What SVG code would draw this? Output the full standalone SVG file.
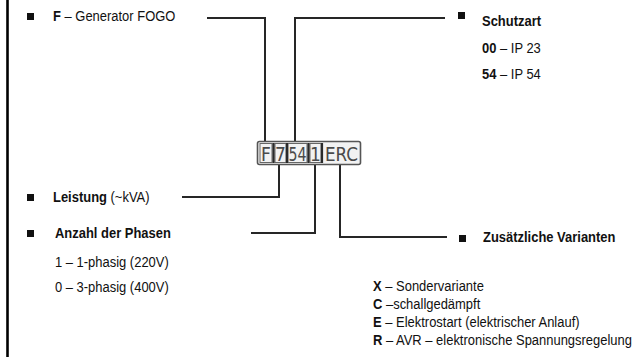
<svg xmlns="http://www.w3.org/2000/svg" width="637" height="358" viewBox="0 0 637 358">
<style>
  text { font-family: "Liberation Sans", Arial, sans-serif; font-size: 14.4px; fill: #111; }
  .b { font-weight: bold; }
  .bul { fill: #111; }
  .conn { fill: none; stroke: #262626; stroke-width: 2; }
  .code { font-family: "DejaVu Sans Condensed", "DejaVu Sans", sans-serif; font-size: 19px; fill: #4a4a4a; }
  .div { stroke: #2a2a2a; stroke-width: 2.2; }
</style>
<line x1="7.5" y1="0" x2="7.5" y2="357" stroke="#000" stroke-width="2.6"/>
<g id="connectors">
  <polyline class="conn" points="207,18 265,18 265,141"/>
  <polyline class="conn" points="445,18 295,18 295,141"/>
  <polyline class="conn" points="182,197 279,197 279,165"/>
  <polyline class="conn" points="251,233 315,233 315,165"/>
  <polyline class="conn" points="447,237 340,237 340,165"/>
</g>
<g id="code">
  <rect x="257.5" y="141.5" width="103" height="23" rx="2" fill="#f2f2f2" stroke="#555" stroke-width="1.6"/>
  <rect x="260" y="143.5" width="12" height="19" fill="none" stroke="#666" stroke-width="1"/>
  <rect x="275" y="143.5" width="11" height="19" fill="none" stroke="#666" stroke-width="1"/>
  <rect x="288" y="143.5" width="19" height="19" fill="none" stroke="#666" stroke-width="1"/>
  <rect x="310" y="143.5" width="11" height="19" fill="none" stroke="#666" stroke-width="1"/>
  <line class="div" x1="273.5" y1="143" x2="273.5" y2="163"/>
  <line class="div" x1="287" y1="143" x2="287" y2="163"/>
  <line class="div" x1="308.5" y1="143" x2="308.5" y2="163"/>
  <line class="div" x1="322" y1="143" x2="322" y2="163"/>
  <text class="code" x="266" y="161" text-anchor="middle">F</text>
  <text class="code" x="280.5" y="161" text-anchor="middle">7</text>
  <text class="code" x="297.5" y="161" text-anchor="middle" textLength="18" lengthAdjust="spacingAndGlyphs">54</text>
  <text class="code" x="315.5" y="161" text-anchor="middle">1</text>
  <text class="code" x="325" y="161" textLength="33" lengthAdjust="spacingAndGlyphs">ERC</text>
</g>
<g id="node-f">
  <rect class="bul" x="27" y="13" width="7" height="7"/>
  <text transform="translate(53,21) scale(0.9,1)"><tspan class="b">F</tspan> – Generator FOGO</text>
</g>
<g id="node-schutzart">
  <rect class="bul" x="458" y="12" width="7" height="7"/>
  <text class="b" transform="translate(482,26) scale(0.9,1)">Schutzart</text>
  <text transform="translate(482,53) scale(0.9,1)"><tspan class="b">00</tspan> – IP 23</text>
  <text transform="translate(482,79) scale(0.9,1)"><tspan class="b">54</tspan> – IP 54</text>
</g>
<g id="node-leistung">
  <rect class="bul" x="27" y="194" width="7" height="7"/>
  <text transform="translate(53,202) scale(0.9,1)"><tspan class="b">Leistung</tspan> (~kVA)</text>
</g>
<g id="node-phasen">
  <rect class="bul" x="27" y="230" width="7" height="7"/>
  <text class="b" transform="translate(55,238) scale(0.9,1)">Anzahl der Phasen</text>
  <text transform="translate(55,267) scale(0.9,1)">1 – 1-phasig (220V)</text>
  <text transform="translate(55,292) scale(0.9,1)">0 – 3-phasig (400V)</text>
</g>
<g id="node-varianten">
  <rect class="bul" x="459" y="235" width="7" height="7"/>
  <text class="b" transform="translate(483,242) scale(0.9,1)">Zusätzliche Varianten</text>
  <text transform="translate(373,291) scale(0.9,1)"><tspan class="b">X</tspan> – Sondervariante</text>
  <text transform="translate(373,309) scale(0.9,1)"><tspan class="b">C</tspan> –schallgedämpft</text>
  <text transform="translate(373,327) scale(0.9,1)"><tspan class="b">E</tspan> – Elektrostart (elektrischer Anlauf)</text>
  <text transform="translate(373,345) scale(0.9,1)"><tspan class="b">R</tspan> – AVR – elektronische Spannungsregelung</text>
</g>
</svg>
